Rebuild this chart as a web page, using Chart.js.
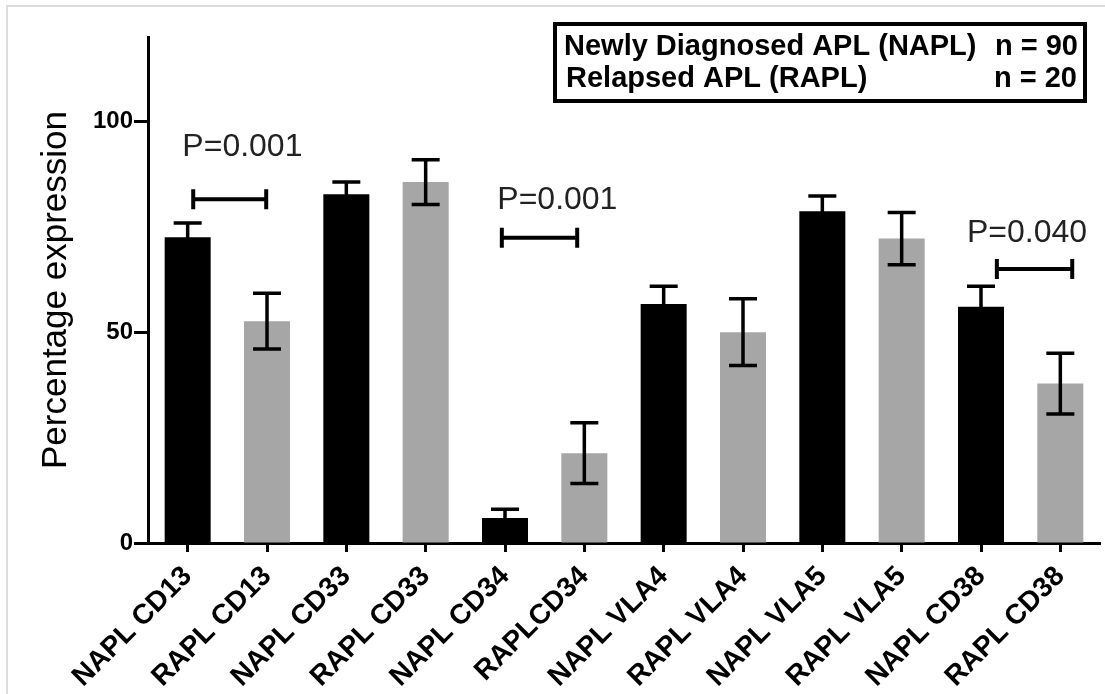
<!DOCTYPE html>
<html>
<head>
<meta charset="utf-8">
<script src="https://cdn.jsdelivr.net/npm/chart.js@4"></script>
<style>
  html, body { margin: 0; padding: 0; background: #fff; }
  #wrap { width: 1105px; height: 694px; }
</style>
</head>
<body>
<div id="wrap"><canvas id="myChart" width="1105" height="694"></canvas></div>
<script>
// categories and values
var categories = ["NAPL CD13", "RAPL CD13", "NAPL CD33", "RAPL CD33", "NAPL CD34", "RAPLCD34",
                  "NAPL VLA4", "RAPL VLA4", "NAPL VLA5", "RAPL VLA5", "NAPL CD38", "RAPL CD38"];
var values = [72.5, 52.6, 82.7, 85.6, 5.9, 21.3, 56.7, 50.0, 78.7, 72.2, 56.0, 37.8];
var errors = [3.4, 6.6, 2.9, 5.3, 2.1, 7.2, 4.2, 7.9, 3.6, 6.2, 4.9, 7.2];
var yTicks = [0, 50, 100];

// significance brackets (category index positions, y value)
var pLabels = ["P=0.001", "P=0.001", "P=0.040"];
var pFrom = [0.07, 3.96, 10.2];
var pTo = [0.99, 4.91, 11.15];
var pLevel = [81.5, 72.4, 65.0];
var pTextAt = [0.69, 4.66, 10.58];
var pTextLevel = [91.7, 79.1, 71.5];

var legendRows = [["Newly Diagnosed APL (NAPL)", "n = 90"], ["Relapsed APL (RAPL)", "n = 20"]];

var FONT = "'Liberation Sans', Arial, sans-serif";
var colors = values.map(function(v, i){ return i % 2 === 0 ? "#000000" : "#a6a6a6"; });

var overlay = {
	id: "overlay",
	beforeDraw: function(chart){
		var ctx = chart.ctx;
		ctx.save();
		ctx.fillStyle = "#fff";
		ctx.fillRect(0, 0, chart.width, chart.height);
		// faint frame of the original picture
		ctx.strokeStyle = "#dcdcdc";
		ctx.lineWidth = 2;
		ctx.beginPath();
		ctx.moveTo(7, chart.height); ctx.lineTo(7, 6); ctx.lineTo(chart.width, 6);
		ctx.stroke();
		ctx.restore();
	},
	afterDatasetsDraw: function(chart){
		var ctx = chart.ctx;
		var x = chart.scales.x, y = chart.scales.y;
		var meta = chart.getDatasetMeta(0);
		ctx.save();
		ctx.strokeStyle = "#000";
		ctx.lineCap = "butt";

		// error bars
		ctx.lineWidth = 3.5;
		meta.data.forEach(function(bar, i){
			var top = y.getPixelForValue(values[i] + errors[i]);
			var bot = y.getPixelForValue(values[i] - errors[i]);
			ctx.beginPath();
			ctx.moveTo(bar.x, top); ctx.lineTo(bar.x, bot);
			ctx.moveTo(bar.x - 14, top); ctx.lineTo(bar.x + 14, top);
			ctx.moveTo(bar.x - 14, bot); ctx.lineTo(bar.x + 14, bot);
			ctx.stroke();
		});

		// P value brackets
		ctx.lineWidth = 4;
		ctx.fillStyle = "#222";
		ctx.font = "32px " + FONT;
		ctx.textAlign = "center";
		ctx.textBaseline = "alphabetic";
		pLabels.forEach(function(lbl, i){
			var x1 = x.getPixelForValue(pFrom[i]);
			var x2 = x.getPixelForValue(pTo[i]);
			var yy = y.getPixelForValue(pLevel[i]);
			ctx.beginPath();
			ctx.moveTo(x1, yy); ctx.lineTo(x2, yy);
			ctx.moveTo(x1, yy - 10); ctx.lineTo(x1, yy + 10);
			ctx.moveTo(x2, yy - 10); ctx.lineTo(x2, yy + 10);
			ctx.stroke();
			ctx.fillText(lbl, x.getPixelForValue(pTextAt[i]), y.getPixelForValue(pTextLevel[i]));
		});

		// boxed legend text
		ctx.lineWidth = 4;
		ctx.strokeRect(555, 24, 530, 77);
		ctx.fillStyle = "#000";
		ctx.font = "bold 29px " + FONT;
		ctx.textAlign = "left";
		ctx.fillText(legendRows[0][0], 564, 55);
		ctx.fillText(legendRows[1][0], 566, 87);
		ctx.textAlign = "right";
		ctx.fillText(legendRows[0][1], 1078, 55);
		ctx.fillText(legendRows[1][1], 1077, 87);
		ctx.restore();
	}
};

var ctx = document.getElementById("myChart");
var myChart = new Chart(ctx, {
	type: "bar",
	data: {
		labels: categories,
		datasets: [{
			label: "Percentage expression",
			data: values,
			backgroundColor: colors,
			borderWidth: 0,
			categoryPercentage: 1.0,
			barPercentage: 0.58
		}]
	},
	options: {
		responsive: false,
		animation: false,
		devicePixelRatio: 1,
		layout: { padding: { top: 37, right: 5, left: 0, bottom: 0 } },
		plugins: { legend: { display: false }, tooltip: { enabled: false } },
		scales: {
			x: {
				offset: true,
				grid: { display: true, offset: false, drawOnChartArea: false, drawTicks: true,
				        tickLength: 9, tickWidth: 3, tickColor: "#000" },
				border: { display: true, color: "#000", width: 3 },
				ticks: {
					color: "#000", minRotation: 45, maxRotation: 45, padding: 8, autoSkip: false,
					font: { family: FONT, size: 28, weight: "bold" }
				},
				afterFit: function(s){ s.height = 151; }
			},
			y: {
				min: 0, max: 120,
				grid: { display: true, drawOnChartArea: false, drawTicks: true,
				        tickLength: 14, tickWidth: 3, tickColor: "#000" },
				border: { display: true, color: "#000", width: 3 },
				ticks: {
					color: "#000", stepSize: 50, padding: 1,
					font: { family: FONT, size: 24, weight: "bold" }
				},
				afterBuildTicks: function(s){
					s.ticks = yTicks.map(function(v){ return { value: v }; });
				},
				title: {
					display: true, text: "Percentage expression", color: "#000",
					font: { family: FONT, size: 35 },
					padding: { top: 35, bottom: 0 }
				},
				afterFit: function(s){ s.width = 148; }
			}
		}
	},
	plugins: [overlay]
});
</script>
</body>
</html>
